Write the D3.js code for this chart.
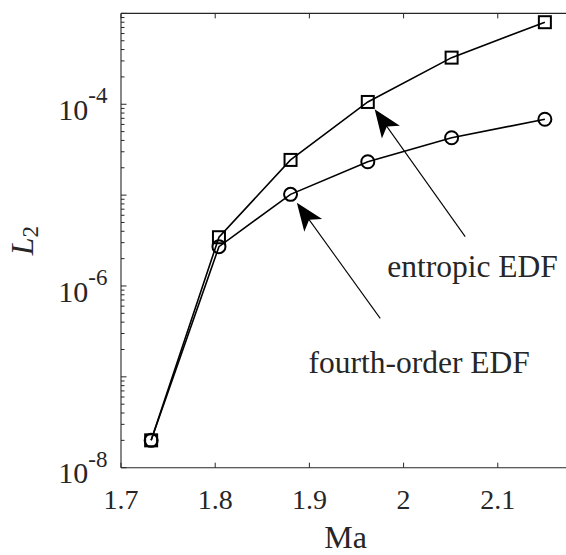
<!DOCTYPE html>
<html>
<head>
<meta charset="utf-8">
<script src="https://cdn.jsdelivr.net/npm/d3@7"></script>
<style>
  html, body { margin: 0; padding: 0; background: #fff; }
  svg { display: block; }
  text { font-family: "Liberation Serif", "Times New Roman", serif; fill: #262626; }
</style>
</head>
<body>
<svg id="chart" width="566" height="555"></svg>
<script>
// ---- data ----
const machNumbers = [1.732, 1.804, 1.880, 1.962, 2.051, 2.150];
const entropicL2 = [2.0e-8, 3.44e-6, 2.44e-5, 1.06e-4, 3.26e-4, 8.0e-4];
const fourthOrderL2 = [2.0e-8, 2.71e-6, 1.02e-5, 2.33e-5, 4.28e-5, 6.84e-5];
const xTickValues = [1.7, 1.8, 1.9, 2.0, 2.1];
const xTickLabels = ["1.7", "1.8", "1.9", "2", "2.1"];
const yTickExponents = [-8, -6, -4];
const annotationLabels = ["entropic EDF", "fourth-order EDF"];
const annotationTextPos = [[1.9826, 1.26e-6], [1.899, 1.1e-7]];
const arrowTails = [[2.0654, 3.49e-6], [1.9752, 4.4e-7]];
const arrowTips = [[1.9693, 8.8e-5], [1.8867, 8.26e-6]];

(function () {
// ---- layout ----
const svg = d3.select("#chart");
const pl = 121, pr = 570.3, pt = 13.4, pb = 467.7;
const x = d3.scaleLinear().domain([1.7, 2.177]).range([pl, pr]);
const y = d3.scaleLog().domain([1e-8, 1e-3]).range([pb, pt]);
const axisColor = "#262626";

// minor + major ticks on left axis
const yAllTicks = [];
for (let e = -8; e < -3; e++) {
  for (let m = 1; m <= 9; m++) yAllTicks.push({ v: m * Math.pow(10, e), major: m === 1 });
}
yAllTicks.push({ v: 1e-3, major: true });

const g = svg.append("g");

// box lines (left, bottom, top)
g.append("line").attr("x1", pl).attr("x2", pl).attr("y1", pt).attr("y2", pb)
  .attr("stroke", axisColor).attr("stroke-width", 1.1);
g.append("line").attr("x1", pl).attr("x2", pr).attr("y1", pb).attr("y2", pb)
  .attr("stroke", axisColor).attr("stroke-width", 1.1);
g.append("line").attr("x1", pl).attr("x2", pr).attr("y1", pt).attr("y2", pt)
  .attr("stroke", axisColor).attr("stroke-width", 1.1);

// y ticks (inward)
g.selectAll(".ytick").data(yAllTicks).enter().append("line")
  .attr("x1", pl).attr("x2", d => pl + (d.major ? 5.5 : 3.5))
  .attr("y1", d => y(d.v)).attr("y2", d => y(d.v))
  .attr("stroke", axisColor).attr("stroke-width", 1);

// x ticks bottom and top (inward)
g.selectAll(".xtickb").data(xTickValues).enter().append("line")
  .attr("x1", d => x(d)).attr("x2", d => x(d))
  .attr("y1", pb).attr("y2", pb - 5)
  .attr("stroke", axisColor).attr("stroke-width", 1);
g.selectAll(".xtickt").data(xTickValues).enter().append("line")
  .attr("x1", d => x(d)).attr("x2", d => x(d))
  .attr("y1", pt).attr("y2", pt + 5)
  .attr("stroke", axisColor).attr("stroke-width", 1);

// x tick labels
g.selectAll(".xlab").data(xTickValues).enter().append("text")
  .attr("x", d => x(d)).attr("y", pb + 41.5)
  .attr("text-anchor", "middle").attr("font-size", 28)
  .text((d, i) => xTickLabels[i]);

// y tick labels 10^e
yTickExponents.forEach(e => {
  const t = g.append("text")
    .attr("x", 107.5).attr("y", y(Math.pow(10, e)) + 15.7)
    .attr("text-anchor", "end").attr("font-size", 30);
  t.append("tspan").text("10");
  t.append("tspan").attr("dy", -16.7).attr("font-size", 23).text("-" + Math.abs(e));
});

// axis labels
svg.append("text").attr("x", (pl + pr) / 2).attr("y", 548)
  .attr("text-anchor", "middle").attr("font-size", 32).text("Ma");
const yl = svg.append("text")
  .attr("transform", `translate(33,${(pt + pb) / 2}) rotate(-90)`)
  .attr("text-anchor", "middle").attr("font-size", 32);
yl.append("tspan").attr("font-style", "italic").text("L");
yl.append("tspan").attr("dy", 5).attr("font-size", 23).text("2");

// ---- series ----
const line = d3.line().x(d => x(d[0])).y(d => y(d[1]));
const sqData = machNumbers.map((m, i) => [m, entropicL2[i]]);
const ciData = machNumbers.map((m, i) => [m, fourthOrderL2[i]]);

svg.append("path").datum(ciData).attr("d", line)
  .attr("fill", "none").attr("stroke", "#000").attr("stroke-width", 1.6);
svg.append("path").datum(sqData).attr("d", line)
  .attr("fill", "none").attr("stroke", "#000").attr("stroke-width", 1.6);

svg.selectAll(".sq").data(sqData).enter().append("rect")
  .attr("x", d => x(d[0]) - 6).attr("y", d => y(d[1]) - 6)
  .attr("width", 12).attr("height", 12)
  .attr("fill", "none").attr("stroke", "#000").attr("stroke-width", 2);
svg.selectAll(".ci").data(ciData).enter().append("circle")
  .attr("cx", d => x(d[0])).attr("cy", d => y(d[1])).attr("r", 6.5)
  .attr("fill", "none").attr("stroke", "#000").attr("stroke-width", 2);

// ---- annotations ----
annotationLabels.forEach((lab, i) => {
  const [tx, ty] = arrowTails[i];
  const [hx, hy] = arrowTips[i];
  const x1 = x(tx), y1 = y(ty), x2 = x(hx), y2 = y(hy);
  const ang = Math.atan2(y2 - y1, x2 - x1) * 180 / Math.PI;
  const len = Math.hypot(x2 - x1, y2 - y1);
  svg.append("line").attr("x1", x1).attr("y1", y1)
    .attr("x2", x1 + (x2 - x1) * (len - 20) / len).attr("y2", y1 + (y2 - y1) * (len - 20) / len)
    .attr("stroke", "#000").attr("stroke-width", 1.1);
  svg.append("path")
    .attr("transform", `translate(${x2},${y2}) rotate(${ang})`)
    .attr("d", "M0,0 L-28,-11 L-21,0 L-28,11 Z")
    .attr("fill", "#000");
  svg.append("text").attr("x", x(annotationTextPos[i][0])).attr("y", y(annotationTextPos[i][1]))
    .attr("font-size", 31.5).attr("fill", "#000").text(lab);
});
})();
</script>
</body>
</html>
